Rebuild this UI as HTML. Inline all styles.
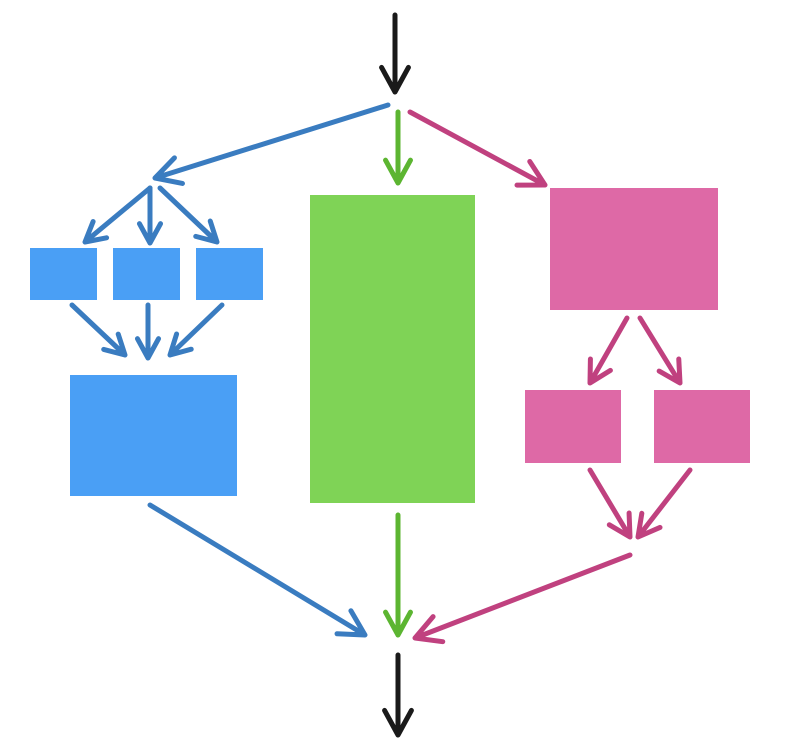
<!DOCTYPE html>
<html><head><style>html,body{margin:0;background:#fff;width:800px;height:753px;overflow:hidden}</style></head>
<body>
<svg id="s" width="800" height="753" xmlns="http://www.w3.org/2000/svg">
<g stroke-linecap="round" stroke-linejoin="round">
<rect x="30" y="248" width="67" height="52" fill="#4a9ff5"/>
<rect x="113" y="248" width="67" height="52" fill="#4a9ff5"/>
<rect x="196" y="248" width="67" height="52" fill="#4a9ff5"/>
<rect x="70" y="375" width="167" height="121" fill="#4a9ff5"/>
<rect x="310" y="195" width="165" height="308" fill="#7fd356"/>
<rect x="550" y="188" width="168" height="122" fill="#de69a6"/>
<rect x="525" y="390" width="96" height="73" fill="#de69a6"/>
<rect x="654" y="390" width="96" height="73" fill="#de69a6"/>
</g>
<g id="a" fill="none" stroke-linecap="round" stroke-linejoin="round" stroke-width="5"></g>
</svg>
<script>
var g=document.getElementById('a');
function ar(x1,y1,x2,y2,c,h){h=h||22;
var dx=x2-x1,dy=y2-y1,L=Math.hypot(dx,dy),ux=dx/L,uy=dy/L,a=0.5;
function r(t){var cs=Math.cos(t),sn=Math.sin(t);return [x2-h*(ux*cs-uy*sn),y2-h*(ux*sn+uy*cs)];}
var p=r(a),q=r(-a);
g.innerHTML+='<path stroke="'+c+'" d="M'+x1+' '+y1+'L'+x2+' '+y2+'M'+p[0]+' '+p[1]+'L'+x2+' '+y2+'L'+q[0]+' '+q[1]+'"/>';}
var K='#1a1a1a',B='#3a7cc0',G='#5cb531',P='#c0417f';
ar(395,15,395,92,K,28);
ar(388,105,155,178,B,28);
ar(398,112,398,183,G,26);
ar(410,112,545,185,P,28);
ar(150,188,85,242,B,22);
ar(150,188,150,243,B,22);
ar(160,188,217,242,B,22);
ar(72,305,125,355,B,22);
ar(148,305,148,358,B,22);
ar(222,305,170,355,B,22);
ar(627,318,590,383,P,24);
ar(640,318,680,383,P,24);
ar(590,470,630,537,P,24);
ar(690,470,638,537,P,24);
ar(150,505,365,635,B,28);
ar(398,515,398,635,G,26);
ar(630,555,415,638,P,28);
ar(398,655,398,735,K,28);
</script>
</body></html>
